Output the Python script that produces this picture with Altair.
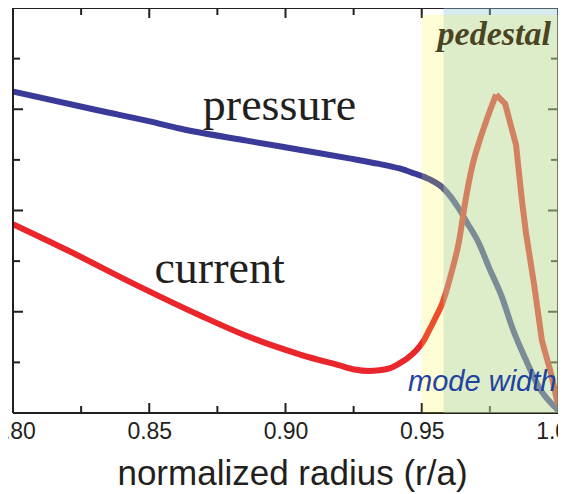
import altair as alt
import pandas as pd

# ---------------- data ----------------
pressure_x = [0.8000, 0.8319, 0.8502, 0.8612, 0.8857, 0.9051, 0.9234, 0.9344, 0.9418,
              0.9473, 0.9527, 0.9575, 0.9608, 0.9637, 0.9663, 0.9711, 0.9747, 0.9795,
              0.9832, 0.9883, 0.9930, 1.0000]
pressure_y = [6.35, 5.97, 5.76, 5.62, 5.38, 5.20, 5.03, 4.92, 4.83,
              4.73, 4.62, 4.46, 4.26, 4.03, 3.79, 3.34, 2.87, 2.28,
              1.69, 1.04, 0.51, 0.06]

# smooth part and rising flank (up to the peak), then the falling flank
current_x = [0.8000, 0.8198, 0.8440, 0.8685, 0.8868, 0.9051, 0.9198, 0.9253, 0.9308,
             0.9344, 0.9381, 0.9418, 0.9447, 0.9480, 0.9505, 0.9527, 0.9553, 0.9575,
             0.9608, 0.9637, 0.9660, 0.9685, 0.9711, 0.9740, 0.9773]
current_y = [3.73, 3.22, 2.56, 1.93, 1.50, 1.16, 0.94, 0.86, 0.83,
             0.845, 0.88, 0.98, 1.08, 1.24, 1.41, 1.63, 1.91, 2.16,
             2.75, 3.40, 4.18, 4.87, 5.36, 5.82, 6.29]
current_fall_x = [0.9773, 0.9806, 0.9828, 0.9846, 0.9868, 0.9883, 0.9912, 0.9941, 0.9974, 1.0000]
current_fall_y = [6.29, 6.11, 5.66, 5.30, 4.18, 3.54, 2.55, 1.43, 0.79, 0.16]

x_domain = [0.80, 1.00]
y_domain = [0, 8]
x_label_values = [0.80, 0.85, 0.90, 0.95, 1.00]
x_major_ticks = [0.85, 0.90, 0.95]
x_minor_ticks = [0.825, 0.875, 0.925, 0.975]
y_major_ticks = [2, 4, 6]
y_minor_ticks = [1, 3, 5, 7]

pedestal_band = [0.95, 1.0035]
pedestal_top = 7.86
mode_band = [0.958, 1.00]

label_pressure = ("pressure", 0.8978, 5.78)
label_current = ("current", 0.8758, 2.57)
label_pedestal = ("pedestal", 0.9766, 7.27)
label_mode = ("mode width", 0.9722, 0.43)

# ---------------- layout / style ----------------
W, H = 545, 405
INK = "#231f20"
dx = (x_domain[1] - x_domain[0]) / W   # data units per pixel
dy = (y_domain[1] - y_domain[0]) / H
MAJ, MIN = 10, 7

xs = alt.Scale(domain=x_domain, nice=False, zero=False)
ys = alt.Scale(domain=y_domain, nice=False, zero=False)
x_axis = alt.Axis(values=x_label_values, format=".2f", title="normalized radius (r/a)",
                  ticks=False, domain=False, grid=False,
                  labelFont="Liberation Sans", labelFontSize=23, labelColor=INK,
                  labelPadding=7, labelFlush=False, labelOverlap=False,
                  titleFont="Liberation Sans", titleFontSize=35, titleFontWeight="normal",
                  titleColor=INK, titlePadding=13, titleX=279, titleAlign="center")


def X(f="x"):
    return alt.X(f"{f}:Q", scale=xs, axis=x_axis)


def Y(f="y"):
    return alt.Y(f"{f}:Q", scale=ys, axis=None)


# curves
press_df = pd.DataFrame({"x": pressure_x, "y": pressure_y})
curr_df = pd.DataFrame({"x": current_x, "y": current_y})
fall_df = pd.DataFrame({"x": current_fall_x, "y": current_fall_y})
press = alt.Chart(press_df).mark_line(color="#3a3a98", strokeWidth=6, interpolate="monotone").encode(x=X(), y=Y())
curr = alt.Chart(curr_df).mark_line(color="#e8262c", strokeWidth=6, interpolate="monotone").encode(x=X(), y=Y())
fall = alt.Chart(fall_df).mark_line(color="#e8262c", strokeWidth=6, interpolate="linear").encode(x=X(), y=Y())

# frame + inward ticks
vrows = [
    {"x": x_domain[0], "y": y_domain[0], "y2": y_domain[1]},
    {"x": x_domain[1], "y": y_domain[0], "y2": y_domain[1]},
]
for v in x_major_ticks + x_minor_ticks:
    L = MAJ if v in x_major_ticks else MIN
    vrows.append({"x": v, "y": y_domain[0], "y2": y_domain[0] + L * dy})
    vrows.append({"x": v, "y": y_domain[1], "y2": y_domain[1] - L * dy})
hrows = [
    {"y": y_domain[0], "x": x_domain[0], "x2": x_domain[1]},
    {"y": y_domain[1], "x": x_domain[0], "x2": x_domain[1]},
]
for v in y_major_ticks + y_minor_ticks:
    L = MAJ if v in y_major_ticks else MIN
    hrows.append({"y": v, "x": x_domain[0], "x2": x_domain[0] + L * dx})
    hrows.append({"y": v, "x": x_domain[1], "x2": x_domain[1] - L * dx})

vrules = alt.Chart(pd.DataFrame(vrows)).mark_rule(color=INK, strokeWidth=2).encode(
    x=X(), y=Y(), y2=alt.Y2("y2:Q"))
hrules = alt.Chart(pd.DataFrame(hrows)).mark_rule(color=INK, strokeWidth=2).encode(
    x=X(), x2=alt.X2("x2:Q"), y=Y())

# translucent overlays
mode_df = pd.DataFrame({"x": [mode_band[0]], "x2": [mode_band[1]], "y": [y_domain[0]], "y2": [y_domain[1]]})
ped_df = pd.DataFrame({"x": [pedestal_band[0]], "x2": [pedestal_band[1]], "y": [y_domain[0]], "y2": [pedestal_top]})
mode_rect = alt.Chart(mode_df).mark_rect(color="#93ccd8", opacity=0.39).encode(
    x=X(), x2=alt.X2("x2:Q"), y=Y(), y2=alt.Y2("y2:Q"))
ped_rect = alt.Chart(ped_df).mark_rect(color="#fff52d", opacity=0.2).encode(
    x=X(), x2=alt.X2("x2:Q"), y=Y(), y2=alt.Y2("y2:Q"))


def label(t, **style):
    df = pd.DataFrame({"t": [t[0]], "x": [t[1]], "y": [t[2]]})
    return alt.Chart(df).mark_text(align="center", baseline="alphabetic", **style).encode(
        x=X(), y=Y(), text="t:N")


t_press = label(label_pressure, font="Liberation Serif", fontSize=46, color=INK)
t_curr = label(label_current, font="Liberation Serif", fontSize=46, color=INK)
t_ped = label(label_pedestal, font="Liberation Serif", fontSize=34, fontWeight="bold",
              fontStyle="italic", color="#4a4423")
t_mode = label(label_mode, font="Liberation Sans", fontSize=29, fontStyle="italic", color="#1f43a0")

chart = alt.layer(
    press, curr, fall, vrules, hrules, mode_rect, ped_rect, t_press, t_curr, t_ped, t_mode
).properties(
    width=W, height=H,
    autosize=alt.AutoSizeParams(type="none"),
    padding={"left": 5, "top": 0, "right": 0, "bottom": 81},
    background="white",
).configure_view(strokeWidth=0)

chart.save("out.html", embed_options={"renderer": "svg", "actions": False})
